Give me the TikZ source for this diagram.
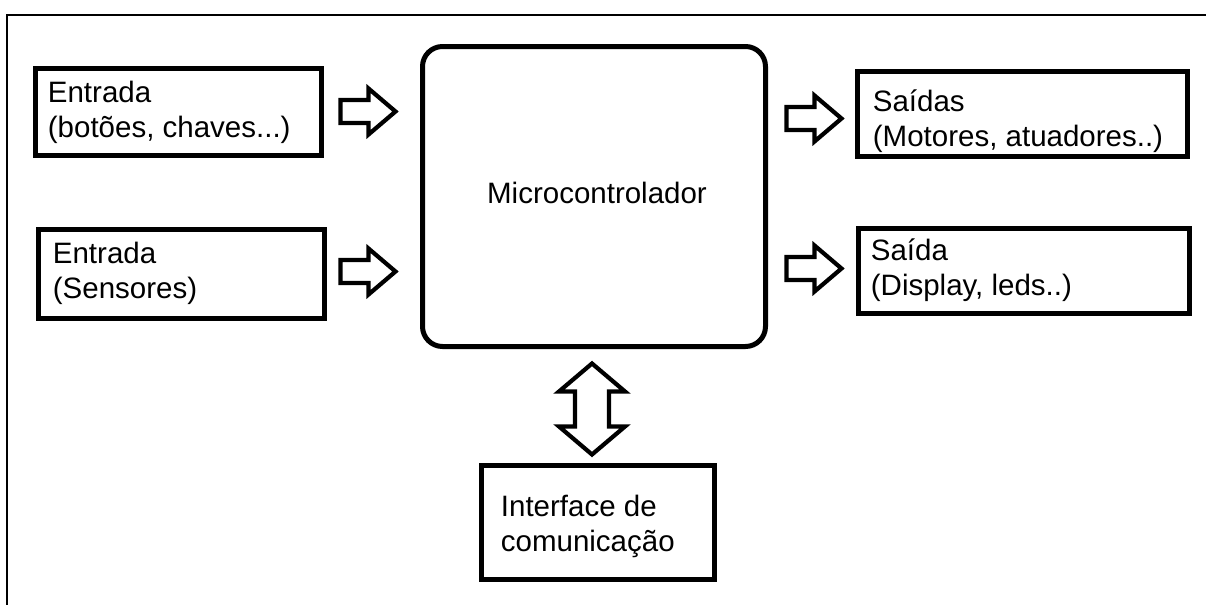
\documentclass[tikz,border=0pt]{standalone}
\usepackage{fontspec}
\setmainfont{Liberation Sans}
\usetikzlibrary{calc}

\tikzset{
  frameline/.style={line width=1pt},
  boxstyle/.style={draw, line width=2.5pt, inner sep=0pt},
  labeltext/.style={inner sep=0pt, align=left, anchor=west,
    font=\fontsize{14.75}{17.5}\selectfont},
  hollowarrow/.style={draw, line width=2.1pt, line join=miter, fill=white},
  % block arrow pointing right, tail at the origin
  rightarrow/.pic={
    \path[hollowarrow] (0,-11.5) -- (28,-11.5) -- (28,-23) -- (55,0)
      -- (28,23) -- (28,11.5) -- (0,11.5) -- cycle;
  },
  % vertical two-headed block arrow, upper tip at the origin
  updownarrow/.pic={
    \path[hollowarrow] (0,0) -- (33,28) -- (17,28) -- (17,63) -- (33,63)
      -- (0,91) -- (-33,63) -- (-17,63) -- (-17,28) -- (-33,28) -- cycle;
  },
}

\begin{document}
\begin{tikzpicture}[x=0.5pt, y=-0.5pt]
  \useasboundingbox (0,0) rectangle (1206,605);

  % outer frame (top and left edges)
  \draw[frameline] (7,605) -- (7,15) -- (1206,15);

  % central unit
  \node[boxstyle, rounded corners=10pt, minimum width=171.5pt,
        minimum height=150pt] (mcu) at (594,196.5) {};
  \node[labeltext, anchor=center] (mcutext) at (597,193) {Microcontrolador};

  % inputs
  \node[boxstyle, minimum width=143pt, minimum height=43.5pt] (in1) at (178.5,112) {};
  \node[labeltext] (in1text) at ([xshift=7.25pt, yshift=0pt]in1.west)
        {Entrada\\(botões, chaves...)};
  \node[boxstyle, minimum width=143pt, minimum height=44.5pt] (in2) at (181.5,274) {};
  \node[labeltext] (in2text) at ([xshift=8.25pt, yshift=0.25pt]in2.west)
        {Entrada\\(Sensores)};

  % outputs
  \node[boxstyle, minimum width=165pt, minimum height=42.5pt] (out1) at (1022.5,114) {};
  \node[labeltext] (out1text) at ([xshift=8.75pt, yshift=-3.75pt]out1.west)
        {Saídas\\(Motores, atuadores..)};
  \node[boxstyle, minimum width=165.5pt, minimum height=42.5pt] (out2) at (1024,271) {};
  \node[labeltext] (out2text) at ([xshift=7.25pt, yshift=0.25pt]out2.west)
        {Saída\\(Display, leds..)};

  % communication interface
  \node[boxstyle, minimum width=116.5pt, minimum height=57pt] (comm) at (598,522.5) {};
  \node[labeltext] (commtext) at ([xshift=10.75pt, yshift=-2pt]comm.west)
        {Interface de\\comunicação};

  % block arrows between the units
  \pic at ([xshift=-39.75pt, yshift=0.25pt]mcu.west |- in1.east) {rightarrow};
  \pic at ([xshift=-39.75pt, yshift=1.25pt]mcu.west |- in2.east) {rightarrow};
  \pic at ([xshift=9.25pt, yshift=-2.25pt]mcu.east |- out1.west) {rightarrow};
  \pic at ([xshift=9.25pt, yshift=1.25pt]mcu.east |- out2.west) {rightarrow};
  \pic at ([xshift=-1pt, yshift=-7.25pt]mcu.south) {updownarrow};
\end{tikzpicture}
\end{document}
